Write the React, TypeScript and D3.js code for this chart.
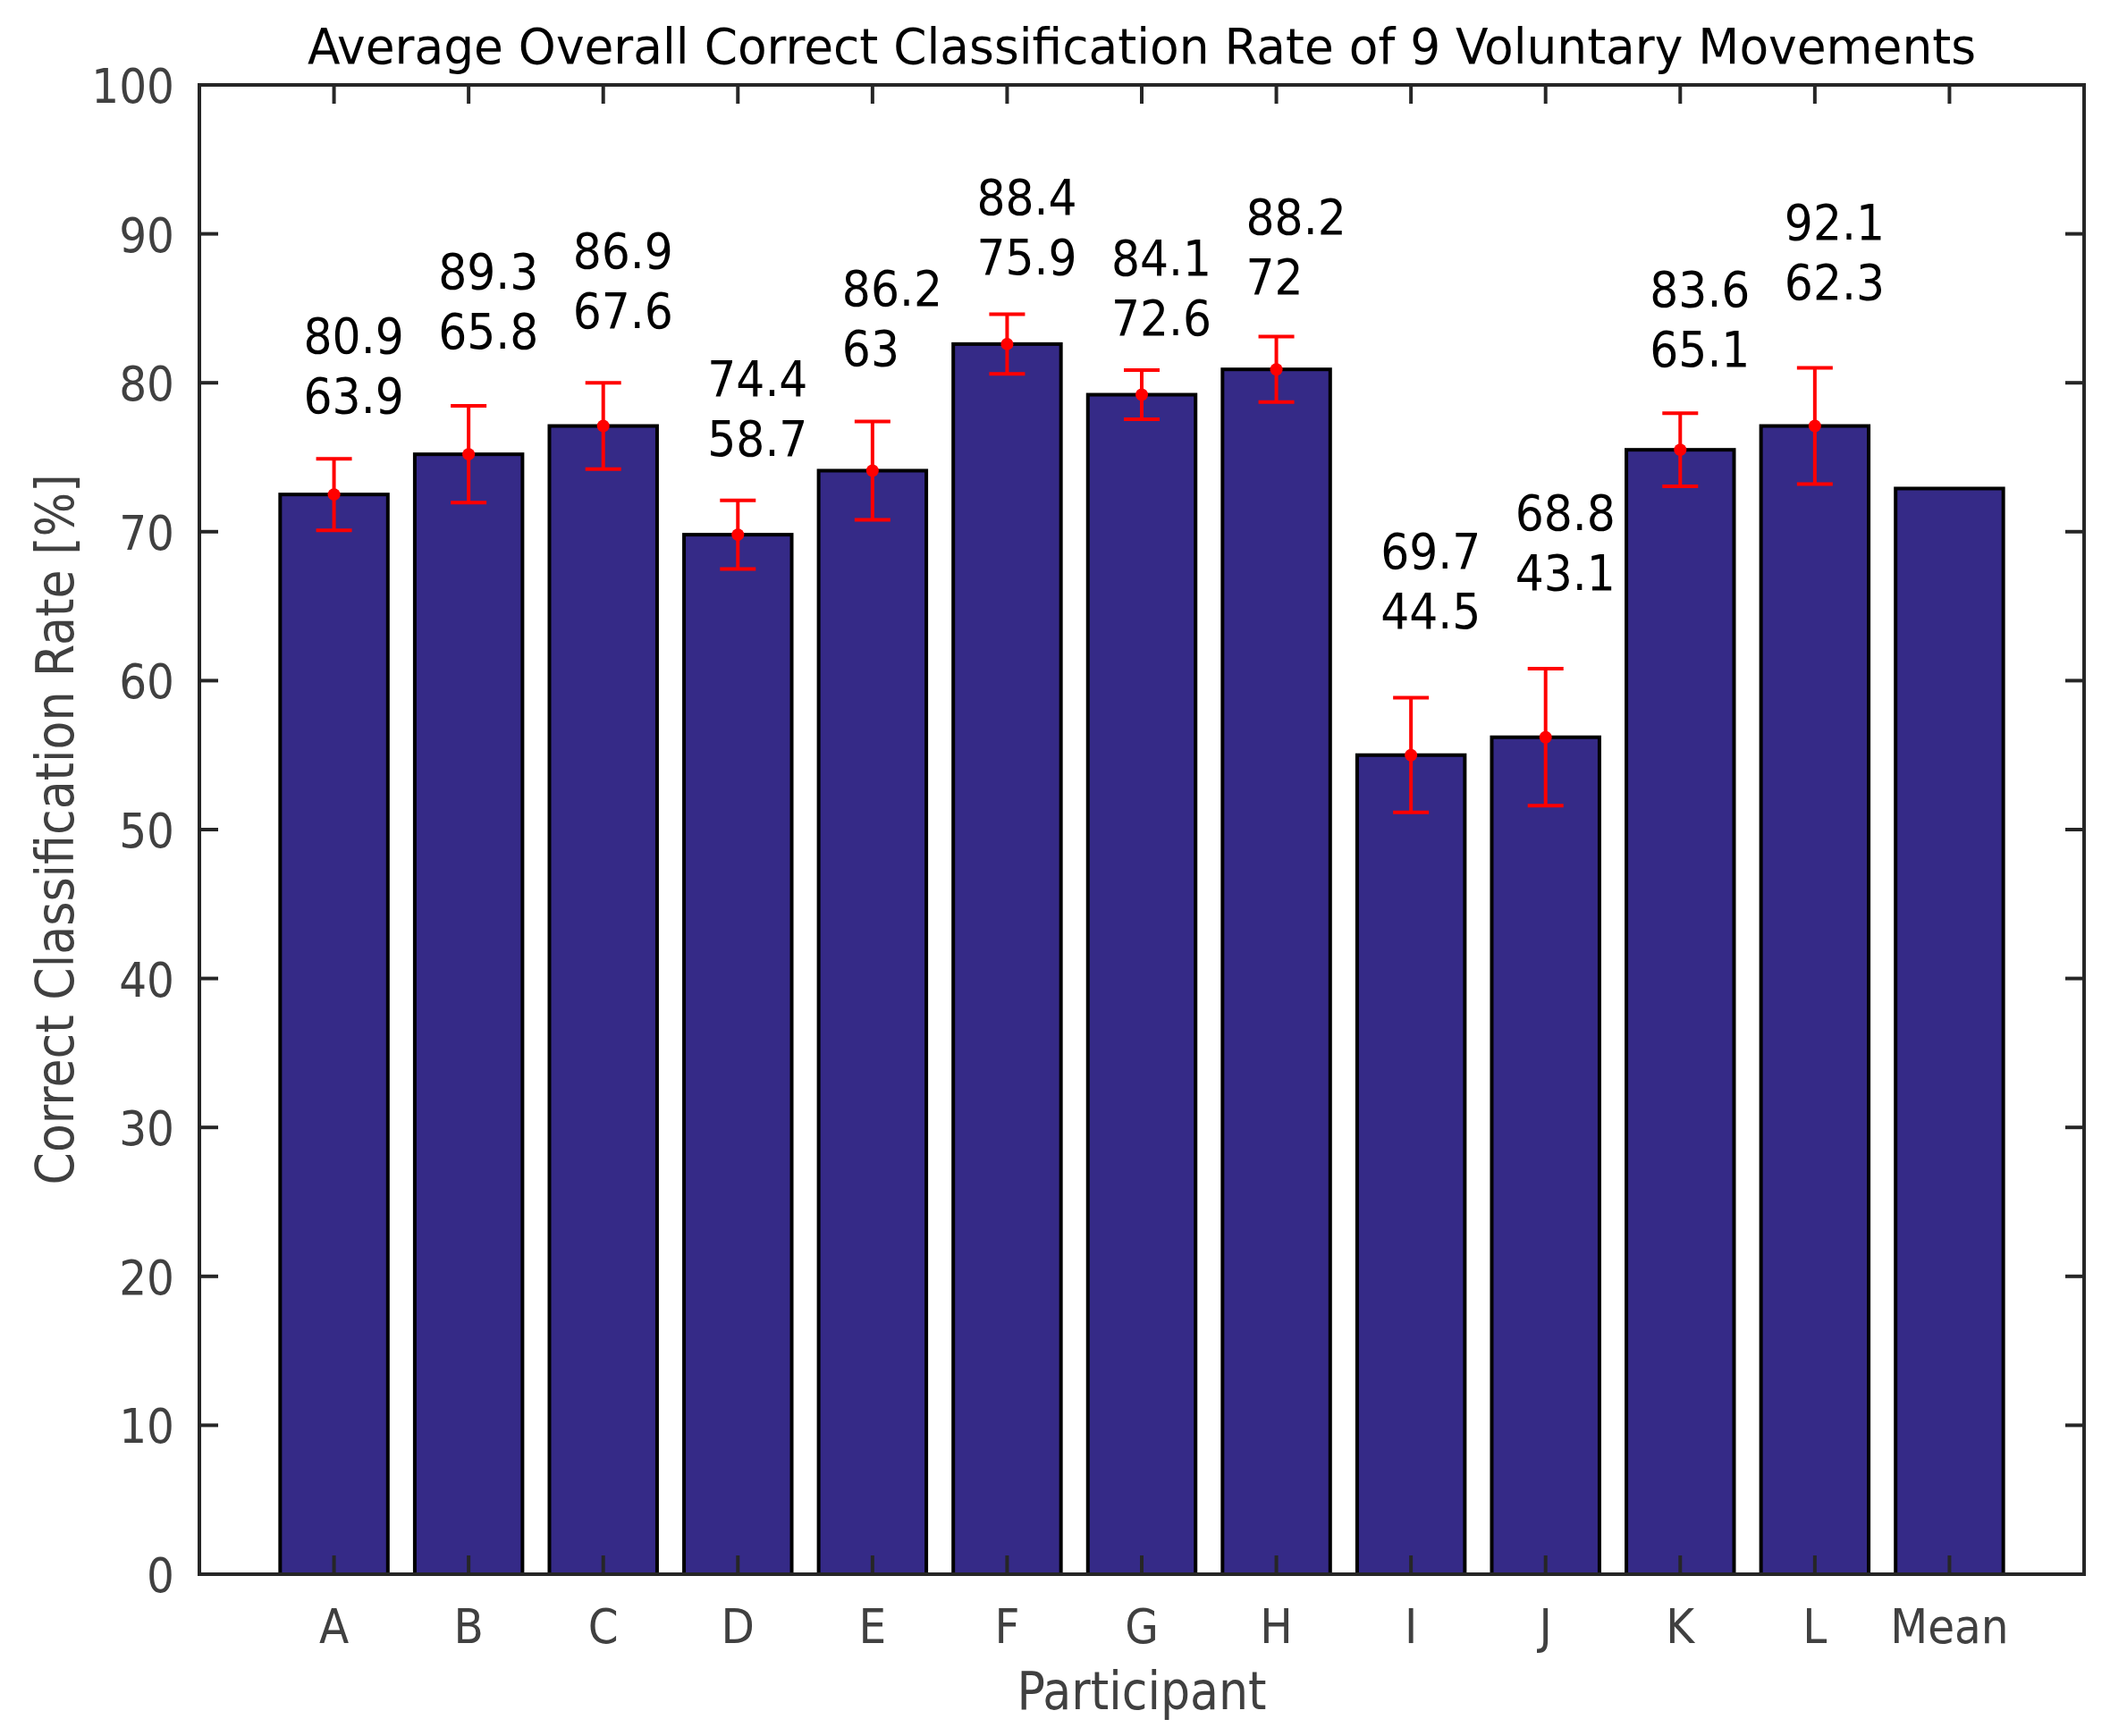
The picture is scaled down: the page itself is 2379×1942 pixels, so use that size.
import { useEffect, useRef } from 'react';
import * as d3 from 'd3';

const participants = ['A', 'B', 'C', 'D', 'E', 'F', 'G', 'H', 'I', 'J', 'K', 'L', 'Mean'];
const rates = [72.5, 75.2, 77.1, 69.8, 74.1, 82.6, 79.2, 80.9, 55.0, 56.2, 75.5, 77.1, 72.9];
const errors = [2.4, 3.25, 2.9, 2.3, 3.3, 2.0, 1.65, 2.2, 3.85, 4.6, 2.45, 3.9, NaN];
const maxRates = ['80.9', '89.3', '86.9', '74.4', '86.2', '88.4', '84.1', '88.2', '69.7', '68.8', '83.6', '92.1'];
const minRates = ['63.9', '65.8', '67.6', '58.7', '63', '75.9', '72.6', '72', '44.5', '43.1', '65.1', '62.3'];
// height (in %) where each pair of max/min labels was put
const labelAt = [83.2, 87.5, 88.9, 80.3, 86.4, 92.5, 88.4, 91.2, 68.7, 71.3, 86.3, 90.8];
const yTicks = [0, 10, 20, 30, 40, 50, 60, 70, 80, 90, 100];

const FONT = '"Liberation Sans Narrow", "DejaVu Sans Condensed", sans-serif';

export default function App() {
  const svgRef = useRef<SVGSVGElement>(null);

  useEffect(() => {
    if (!svgRef.current) return;
    const width = 2379;
    const height = 1942;
    const margin = { top: 95, right: 48, bottom: 181, left: 223 };
    const innerW = width - margin.left - margin.right;
    const innerH = height - margin.top - margin.bottom;

    const svg = d3.select(svgRef.current);
    svg.selectAll('*').remove();
    svg.attr('width', width).attr('height', height);

    svg.append('rect').attr('width', width).attr('height', height).attr('fill', '#ffffff');

    const g = svg.append('g').attr('transform', `translate(${margin.left},${margin.top})`);

    const x = d3.scaleLinear().domain([0, participants.length + 1]).range([0, innerW]);
    const y = d3.scaleLinear().domain([0, 100]).range([innerH, 0]);
    const barW = (x(1) - x(0)) * 0.8;
    const tickLen = 21;
    const axisColor = '#262626';
    const labelColor = '#404040';

    // bars
    g.selectAll('rect.bar')
      .data(rates)
      .join('rect')
      .attr('class', 'bar')
      .attr('x', (_, i) => x(i + 1) - barW / 2)
      .attr('y', (d) => y(d))
      .attr('width', barW)
      .attr('height', (d) => y(0) - y(d))
      .attr('fill', '#352a87')
      .attr('stroke', '#000000')
      .attr('stroke-width', 4);

    // error bars
    const errData = rates
      .map((v, i) => ({ v, e: errors[i], i }))
      .filter((d) => !isNaN(d.e));
    const capHalf = 20;
    const eg = g.append('g').attr('stroke', '#ff0000').attr('stroke-width', 4);
    errData.forEach((d) => {
      const cx = x(d.i + 1);
      eg.append('line').attr('x1', cx).attr('x2', cx).attr('y1', y(d.v + d.e)).attr('y2', y(d.v - d.e));
      eg.append('line').attr('x1', cx - capHalf).attr('x2', cx + capHalf).attr('y1', y(d.v + d.e)).attr('y2', y(d.v + d.e));
      eg.append('line').attr('x1', cx - capHalf).attr('x2', cx + capHalf).attr('y1', y(d.v - d.e)).attr('y2', y(d.v - d.e));
    });
    g.selectAll('circle.pt')
      .data(errData)
      .join('circle')
      .attr('class', 'pt')
      .attr('cx', (d) => x(d.i + 1))
      .attr('cy', (d) => y(d.v))
      .attr('r', 7)
      .attr('fill', '#ff0000');

    // max / min labels
    const lg = g.append('g').attr('font-family', FONT).attr('font-size', 56).attr('fill', '#000000');
    maxRates.forEach((m, i) => {
      const lx = x(i + 1) - 34;
      const ly = y(labelAt[i]) + 20;
      lg.append('text').attr('x', lx).attr('y', ly).text(m);
      lg.append('text').attr('x', lx).attr('y', ly + 67).text(minRates[i]);
    });

    // box
    g.append('rect')
      .attr('width', innerW)
      .attr('height', innerH)
      .attr('fill', 'none')
      .attr('stroke', axisColor)
      .attr('stroke-width', 4);

    // ticks
    const tg = g.append('g').attr('stroke', axisColor).attr('stroke-width', 4);
    participants.forEach((_, i) => {
      const tx = x(i + 1);
      tg.append('line').attr('x1', tx).attr('x2', tx).attr('y1', innerH).attr('y2', innerH - tickLen);
      tg.append('line').attr('x1', tx).attr('x2', tx).attr('y1', 0).attr('y2', tickLen);
    });
    yTicks.forEach((t) => {
      tg.append('line').attr('x1', 0).attr('x2', tickLen).attr('y1', y(t)).attr('y2', y(t));
      tg.append('line').attr('x1', innerW).attr('x2', innerW - tickLen).attr('y1', y(t)).attr('y2', y(t));
    });

    // tick labels
    const txt = g.append('g').attr('font-family', FONT).attr('font-size', 54).attr('fill', labelColor);
    participants.forEach((p, i) => {
      txt.append('text').attr('x', x(i + 1)).attr('y', innerH + 77).attr('text-anchor', 'middle').text(p);
    });
    yTicks.forEach((t) => {
      txt.append('text')
        .attr('x', -28)
        .attr('y', y(t) + 20)
        .attr('text-anchor', 'end')
        .text(String(t));
    });

    // axis labels
    g.append('text')
      .attr('x', innerW / 2)
      .attr('y', innerH + 151)
      .attr('text-anchor', 'middle')
      .attr('font-family', FONT)
      .attr('font-size', 58)
      .attr('fill', labelColor)
      .text('Participant');

    g.append('text')
      .attr('transform', `translate(${82 - margin.left},${innerH / 2}) rotate(-90)`)
      .attr('text-anchor', 'middle')
      .attr('font-family', FONT)
      .attr('font-size', 58)
      .attr('fill', labelColor)
      .text('Correct Classification Rate [%]');

    // title
    g.append('text')
      .attr('x', innerW / 2)
      .attr('y', 71 - margin.top)
      .attr('text-anchor', 'middle')
      .attr('font-family', FONT)
      .attr('font-size', 56)
      .attr('fill', '#000000')
      .attr('textLength', 1866)
      .attr('lengthAdjust', 'spacingAndGlyphs')
      .text('Average Overall Correct Classification Rate of 9 Voluntary Movements');
  }, []);

  return (
    <div style={{ position: 'absolute', left: 0, top: 0 }}>
      <svg ref={svgRef} style={{ display: 'block' }} />
    </div>
  );
}
